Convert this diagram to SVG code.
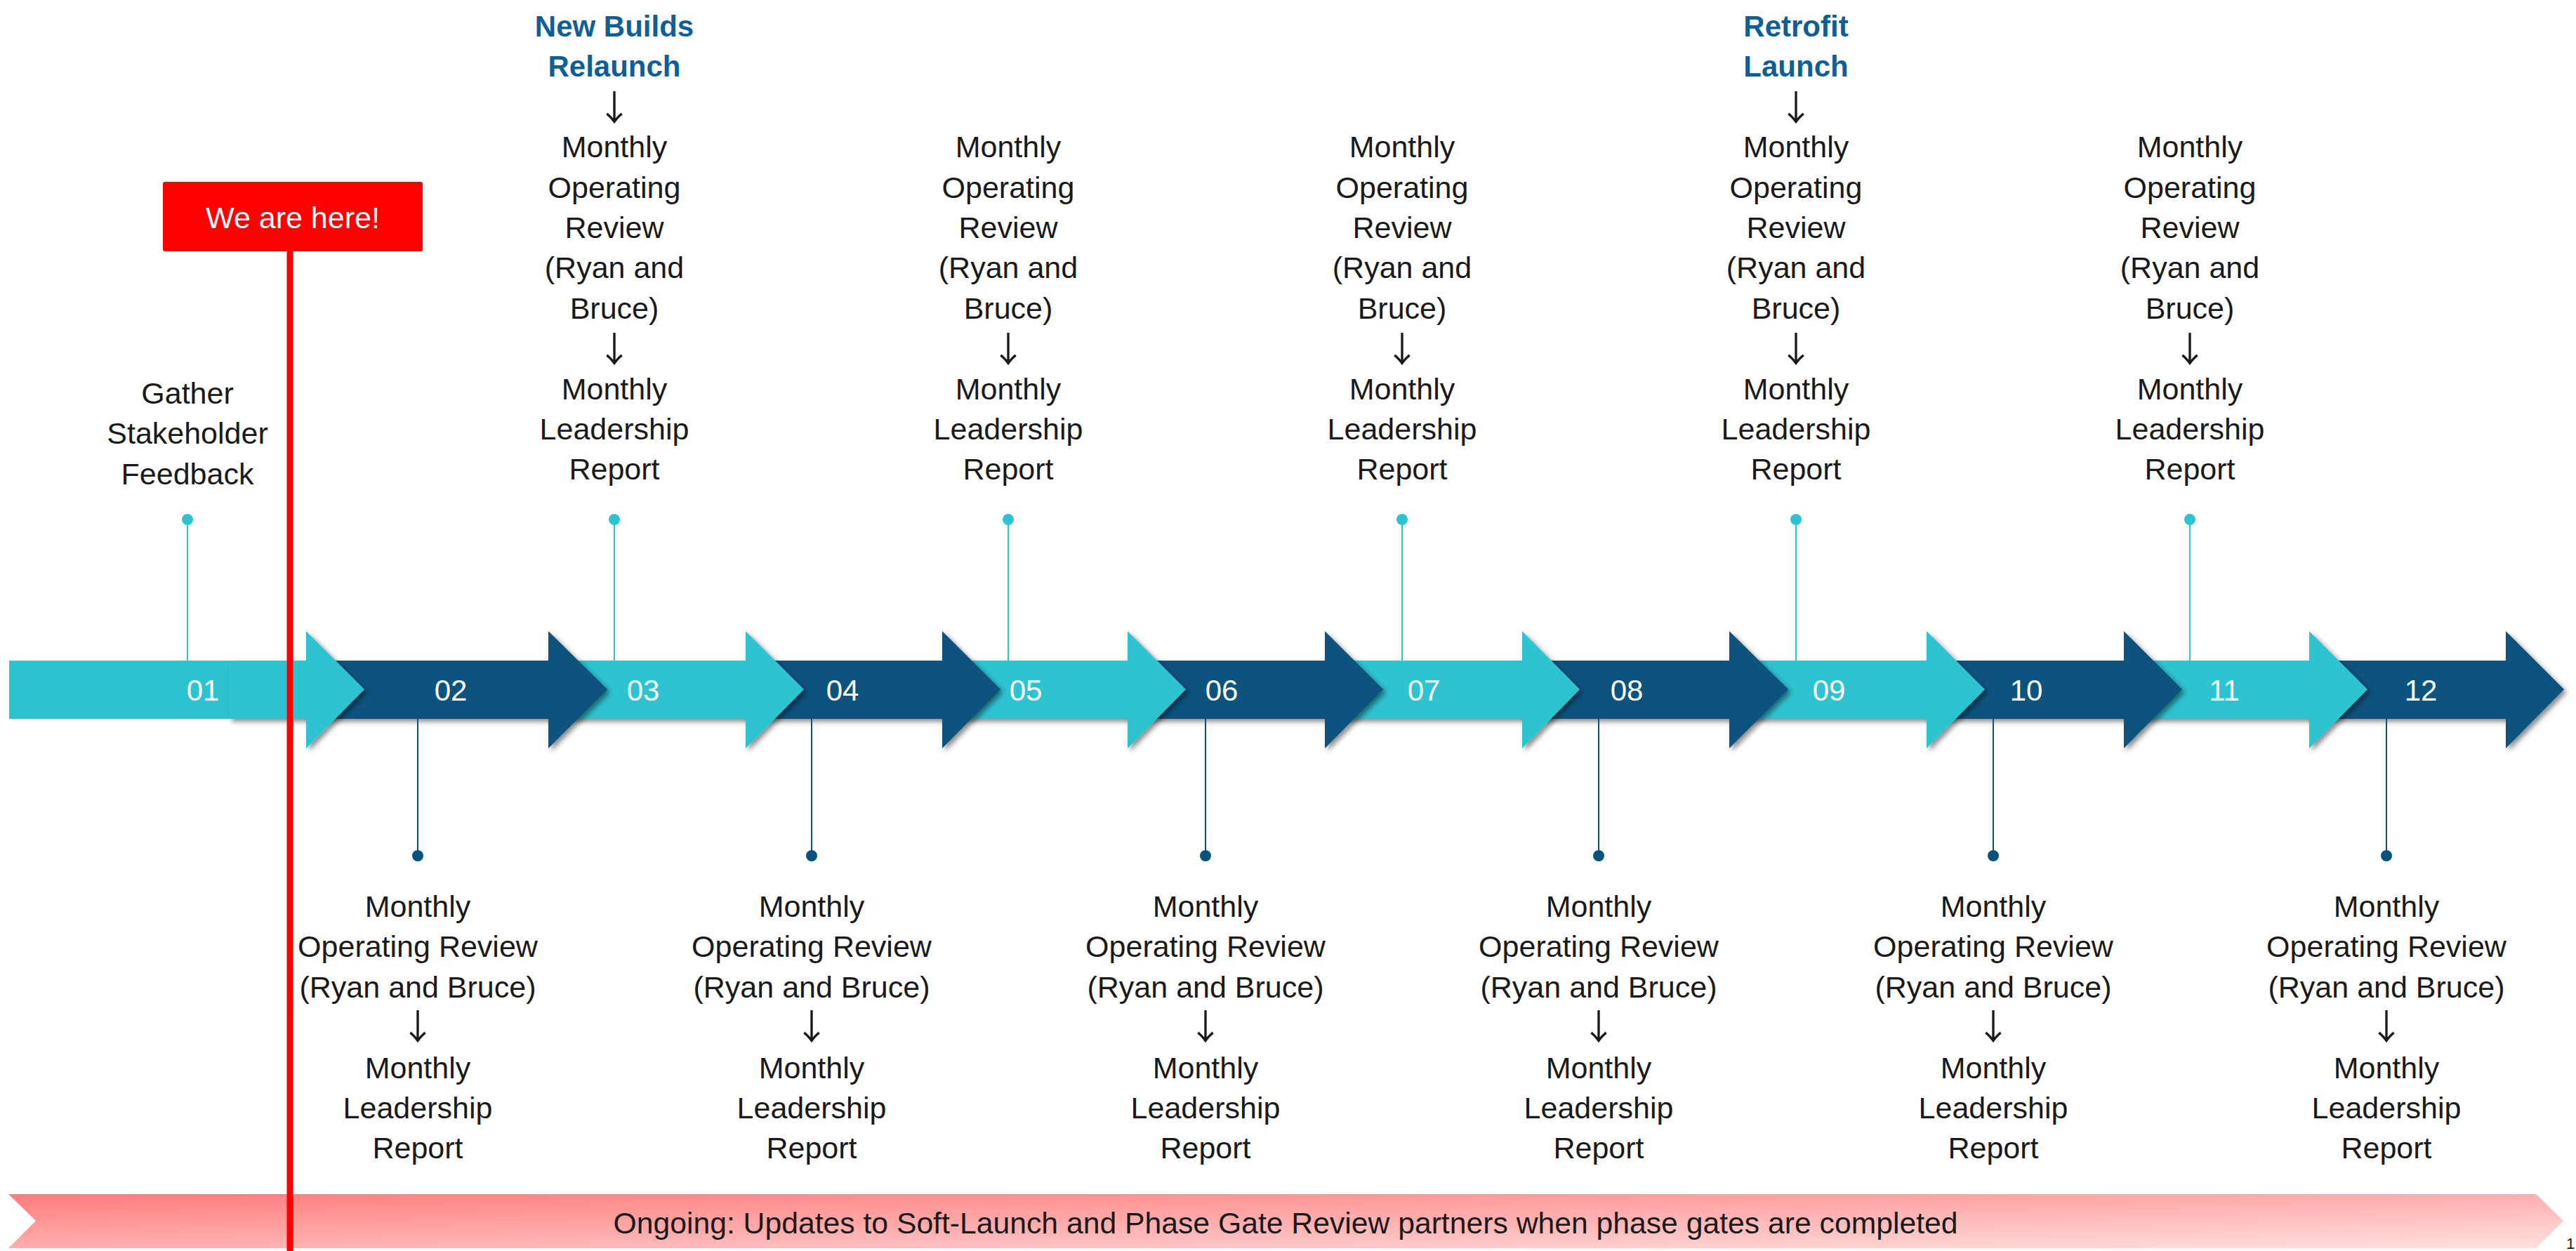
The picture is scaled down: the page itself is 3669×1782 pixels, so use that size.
<svg xmlns="http://www.w3.org/2000/svg" width="3669" height="1782" viewBox="0 0 3669 1782">
<defs>
<style>
.lbl{font-family:"Liberation Sans",Arial,sans-serif;font-size:43px;fill:#1a1a1a;text-anchor:middle}
.hd{font-family:"Liberation Sans",Arial,sans-serif;font-size:42px;font-weight:bold;fill:#0E5E98;text-anchor:middle}
.ar{font-family:"Noto Sans CJK JP",sans-serif;font-size:50px;fill:#1a1a1a;text-anchor:middle}
.num{font-family:"Liberation Sans",Arial,sans-serif;font-size:42px;fill:#ffffff;text-anchor:middle}
.teal{fill:#2EC3D0}
.dark{fill:#08537E}
.lt{stroke:#2EC3D0;stroke-width:2;fill:none}
.ld{stroke:#08537E;stroke-width:2;fill:none}
</style>
<filter id="sh" x="-10%" y="-20%" width="120%" height="150%">
<feDropShadow dx="4" dy="4" stdDeviation="3.5" flood-color="#000" flood-opacity="0.45"/>
</filter>
<linearGradient id="bg" x1="0" y1="0" x2="1" y2="1">
<stop offset="0" stop-color="#FF7C7C"/>
<stop offset="1" stop-color="#FFE0E0"/>
</linearGradient>
</defs>

<g id="banner">
<polygon points="12,1701 3612,1701 3651,1739 3612,1778 12,1778 51,1739" fill="url(#bg)"/>
<text x="1831" y="1757" style="font-family:'Liberation Sans',Arial,sans-serif;font-size:42.7px;fill:#1a1a1a;text-anchor:middle">Ongoing: Updates to Soft-Launch and Phase Gate Review partners when phase gates are completed</text>
</g>

<g id="timeline">
<polygon id="a12" class="dark" filter="url(#sh)" points="3289,941 3569,941 3569,899 3652,982 3569,1066 3569,1024 3289,1024"/>
<polygon id="a11" class="teal" filter="url(#sh)" points="3025,941 3289,941 3289,899 3372,982 3289,1066 3289,1024 3025,1024"/>
<polygon id="a10" class="dark" filter="url(#sh)" points="2744,941 3025,941 3025,899 3108,982 3025,1066 3025,1024 2744,1024"/>
<polygon id="a09" class="teal" filter="url(#sh)" points="2463,941 2744,941 2744,899 2827,982 2744,1066 2744,1024 2463,1024"/>
<polygon id="a08" class="dark" filter="url(#sh)" points="2168,941 2463,941 2463,899 2547,982 2463,1066 2463,1024 2168,1024"/>
<polygon id="a07" class="teal" filter="url(#sh)" points="1887,941 2168,941 2168,899 2250,982 2168,1066 2168,1024 1887,1024"/>
<polygon id="a06" class="dark" filter="url(#sh)" points="1606,941 1887,941 1887,899 1970,982 1887,1066 1887,1024 1606,1024"/>
<polygon id="a05" class="teal" filter="url(#sh)" points="1342,941 1606,941 1606,899 1689,982 1606,1066 1606,1024 1342,1024"/>
<polygon id="a04" class="dark" filter="url(#sh)" points="1062,941 1342,941 1342,899 1425,982 1342,1066 1342,1024 1062,1024"/>
<polygon id="a03" class="teal" filter="url(#sh)" points="781,941 1062,941 1062,899 1145,982 1062,1066 1062,1024 781,1024"/>
<polygon id="a02" class="dark" filter="url(#sh)" points="436,941 781,941 781,899 865,982 781,1066 781,1024 436,1024"/>
<rect class="teal" x="13" y="941" width="330" height="83"/>
<polygon id="a01" class="teal" filter="url(#sh)" points="326,941 436,941 436,899 519,982 436,1066 436,1024 326,1024"/>
<text class="num" x="289" y="998">01</text>
<text class="num" x="642" y="998">02</text>
<text class="num" x="916" y="998">03</text>
<text class="num" x="1200" y="998">04</text>
<text class="num" x="1461" y="998">05</text>
<text class="num" x="1740" y="998">06</text>
<text class="num" x="2028" y="998">07</text>
<text class="num" x="2317" y="998">08</text>
<text class="num" x="2605" y="998">09</text>
<text class="num" x="2886" y="998">10</text>
<text class="num" x="3168" y="998">11</text>
<text class="num" x="3448" y="998">12</text>
</g>

<g id="connectors">
<line class="lt" x1="267" y1="740" x2="267" y2="941"/>
<line class="lt" x1="875" y1="740" x2="875" y2="941"/>
<line class="lt" x1="1436" y1="740" x2="1436" y2="941"/>
<line class="lt" x1="1997" y1="740" x2="1997" y2="941"/>
<line class="lt" x1="2558" y1="740" x2="2558" y2="941"/>
<line class="lt" x1="3119" y1="740" x2="3119" y2="941"/>
<line class="ld" x1="595" y1="1024" x2="595" y2="1219"/>
<line class="ld" x1="1156" y1="1024" x2="1156" y2="1219"/>
<line class="ld" x1="1717" y1="1024" x2="1717" y2="1219"/>
<line class="ld" x1="2277" y1="1024" x2="2277" y2="1219"/>
<line class="ld" x1="2839" y1="1024" x2="2839" y2="1219"/>
<line class="ld" x1="3399" y1="1024" x2="3399" y2="1219"/>
<circle class="teal" cx="267" cy="740" r="8"/>
<circle class="teal" cx="875" cy="740" r="8"/>
<circle class="teal" cx="1436" cy="740" r="8"/>
<circle class="teal" cx="1997" cy="740" r="8"/>
<circle class="teal" cx="2558" cy="740" r="8"/>
<circle class="teal" cx="3119" cy="740" r="8"/>
<circle class="dark" cx="595" cy="1219" r="8"/>
<circle class="dark" cx="1156" cy="1219" r="8"/>
<circle class="dark" cx="1717" cy="1219" r="8"/>
<circle class="dark" cx="2277" cy="1219" r="8"/>
<circle class="dark" cx="2839" cy="1219" r="8"/>
<circle class="dark" cx="3399" cy="1219" r="8"/>
</g>

<g id="m01">
<text class="lbl"><tspan x="267" y="575">Gather</tspan><tspan x="267" y="632.4">Stakeholder</tspan><tspan x="267" y="689.8">Feedback</tspan></text>
</g>

<g id="m03">
<text class="hd"><tspan x="875" y="52">New Builds</tspan><tspan x="875" y="109.4">Relaunch</tspan></text>
<text class="ar" x="875" y="172">↓</text>
<text class="lbl"><tspan x="875" y="224.2">Monthly</tspan><tspan x="875" y="281.6">Operating</tspan><tspan x="875" y="339">Review</tspan><tspan x="875" y="396.4">(Ryan and</tspan><tspan x="875" y="453.8">Bruce)</tspan></text>
<text class="ar" x="875" y="516">↓</text>
<text class="lbl"><tspan x="875" y="568.6">Monthly</tspan><tspan x="875" y="626">Leadership</tspan><tspan x="875" y="683.4">Report</tspan></text>
</g>

<g id="m05">
<text class="lbl"><tspan x="1436" y="224.2">Monthly</tspan><tspan x="1436" y="281.6">Operating</tspan><tspan x="1436" y="339">Review</tspan><tspan x="1436" y="396.4">(Ryan and</tspan><tspan x="1436" y="453.8">Bruce)</tspan></text>
<text class="ar" x="1436" y="516">↓</text>
<text class="lbl"><tspan x="1436" y="568.6">Monthly</tspan><tspan x="1436" y="626">Leadership</tspan><tspan x="1436" y="683.4">Report</tspan></text>
</g>

<g id="m07">
<text class="lbl"><tspan x="1997" y="224.2">Monthly</tspan><tspan x="1997" y="281.6">Operating</tspan><tspan x="1997" y="339">Review</tspan><tspan x="1997" y="396.4">(Ryan and</tspan><tspan x="1997" y="453.8">Bruce)</tspan></text>
<text class="ar" x="1997" y="516">↓</text>
<text class="lbl"><tspan x="1997" y="568.6">Monthly</tspan><tspan x="1997" y="626">Leadership</tspan><tspan x="1997" y="683.4">Report</tspan></text>
</g>

<g id="m09">
<text class="hd"><tspan x="2558" y="52">Retrofit</tspan><tspan x="2558" y="109.4">Launch</tspan></text>
<text class="ar" x="2558" y="172">↓</text>
<text class="lbl"><tspan x="2558" y="224.2">Monthly</tspan><tspan x="2558" y="281.6">Operating</tspan><tspan x="2558" y="339">Review</tspan><tspan x="2558" y="396.4">(Ryan and</tspan><tspan x="2558" y="453.8">Bruce)</tspan></text>
<text class="ar" x="2558" y="516">↓</text>
<text class="lbl"><tspan x="2558" y="568.6">Monthly</tspan><tspan x="2558" y="626">Leadership</tspan><tspan x="2558" y="683.4">Report</tspan></text>
</g>

<g id="m11">
<text class="lbl"><tspan x="3119" y="224.2">Monthly</tspan><tspan x="3119" y="281.6">Operating</tspan><tspan x="3119" y="339">Review</tspan><tspan x="3119" y="396.4">(Ryan and</tspan><tspan x="3119" y="453.8">Bruce)</tspan></text>
<text class="ar" x="3119" y="516">↓</text>
<text class="lbl"><tspan x="3119" y="568.6">Monthly</tspan><tspan x="3119" y="626">Leadership</tspan><tspan x="3119" y="683.4">Report</tspan></text>
</g>

<g id="m02">
<text class="lbl"><tspan x="595" y="1306">Monthly</tspan><tspan x="595" y="1363.4">Operating Review</tspan><tspan x="595" y="1420.8">(Ryan and Bruce)</tspan></text>
<text class="ar" x="595" y="1481">↓</text>
<text class="lbl"><tspan x="595" y="1535.6">Monthly</tspan><tspan x="595" y="1593">Leadership</tspan><tspan x="595" y="1650.4">Report</tspan></text>
</g>

<g id="m04">
<text class="lbl"><tspan x="1156" y="1306">Monthly</tspan><tspan x="1156" y="1363.4">Operating Review</tspan><tspan x="1156" y="1420.8">(Ryan and Bruce)</tspan></text>
<text class="ar" x="1156" y="1481">↓</text>
<text class="lbl"><tspan x="1156" y="1535.6">Monthly</tspan><tspan x="1156" y="1593">Leadership</tspan><tspan x="1156" y="1650.4">Report</tspan></text>
</g>

<g id="m06">
<text class="lbl"><tspan x="1717" y="1306">Monthly</tspan><tspan x="1717" y="1363.4">Operating Review</tspan><tspan x="1717" y="1420.8">(Ryan and Bruce)</tspan></text>
<text class="ar" x="1717" y="1481">↓</text>
<text class="lbl"><tspan x="1717" y="1535.6">Monthly</tspan><tspan x="1717" y="1593">Leadership</tspan><tspan x="1717" y="1650.4">Report</tspan></text>
</g>

<g id="m08">
<text class="lbl"><tspan x="2277" y="1306">Monthly</tspan><tspan x="2277" y="1363.4">Operating Review</tspan><tspan x="2277" y="1420.8">(Ryan and Bruce)</tspan></text>
<text class="ar" x="2277" y="1481">↓</text>
<text class="lbl"><tspan x="2277" y="1535.6">Monthly</tspan><tspan x="2277" y="1593">Leadership</tspan><tspan x="2277" y="1650.4">Report</tspan></text>
</g>

<g id="m10">
<text class="lbl"><tspan x="2839" y="1306">Monthly</tspan><tspan x="2839" y="1363.4">Operating Review</tspan><tspan x="2839" y="1420.8">(Ryan and Bruce)</tspan></text>
<text class="ar" x="2839" y="1481">↓</text>
<text class="lbl"><tspan x="2839" y="1535.6">Monthly</tspan><tspan x="2839" y="1593">Leadership</tspan><tspan x="2839" y="1650.4">Report</tspan></text>
</g>

<g id="m12">
<text class="lbl"><tspan x="3399" y="1306">Monthly</tspan><tspan x="3399" y="1363.4">Operating Review</tspan><tspan x="3399" y="1420.8">(Ryan and Bruce)</tspan></text>
<text class="ar" x="3399" y="1481">↓</text>
<text class="lbl"><tspan x="3399" y="1535.6">Monthly</tspan><tspan x="3399" y="1593">Leadership</tspan><tspan x="3399" y="1650.4">Report</tspan></text>
</g>

<g id="marker-here">
<rect x="408.5" y="358" width="9" height="1424" fill="#FF0000"/>
<rect x="232" y="259" width="370" height="99" rx="3" fill="#FF0000"/>
<text x="417" y="325" style="font-family:'Liberation Sans',Arial,sans-serif;font-size:43px;fill:#ffffff;text-anchor:middle">We are here!</text>
</g>

<g id="page">
<text x="3655" y="1779" style="font-family:'Liberation Sans',Arial,sans-serif;font-size:22px;fill:#1a1a1a">1</text>
</g>
</svg>
